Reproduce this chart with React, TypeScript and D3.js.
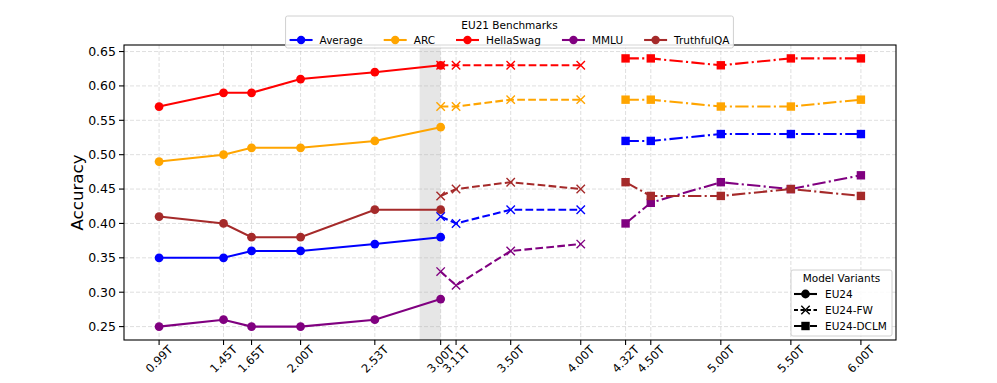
import * as d3 from "d3";

const width = 997;
const height = 383;
const margin = { left: 124, right: 101, top: 45, bottom: 43 };

const benchmarks = ["Average", "ARC", "HellaSwag", "MMLU", "TruthfulQA"];
const colors = ["blue", "orange", "red", "purple", "brown"];

const eu24Tokens = [0.99, 1.45, 1.65, 2.0, 2.53, 3.0];
const eu24Values = [
  [0.35, 0.35, 0.36, 0.36, 0.37, 0.38],
  [0.49, 0.5, 0.51, 0.51, 0.52, 0.54],
  [0.57, 0.59, 0.59, 0.61, 0.62, 0.63],
  [0.25, 0.26, 0.25, 0.25, 0.26, 0.29],
  [0.41, 0.4, 0.38, 0.38, 0.42, 0.42],
];

const fwTokens = [3.0, 3.11, 3.5, 4.0];
const fwValues = [
  [0.41, 0.4, 0.42, 0.42],
  [0.57, 0.57, 0.58, 0.58],
  [0.63, 0.63, 0.63, 0.63],
  [0.33, 0.31, 0.36, 0.37],
  [0.44, 0.45, 0.46, 0.45],
];

const dclmTokens = [4.32, 4.5, 5.0, 5.5, 6.0];
const dclmValues = [
  [0.52, 0.52, 0.53, 0.53, 0.53],
  [0.58, 0.58, 0.57, 0.57, 0.58],
  [0.64, 0.64, 0.63, 0.64, 0.64],
  [0.4, 0.43, 0.46, 0.45, 0.47],
  [0.46, 0.44, 0.44, 0.45, 0.44],
];

const xTicks = [0.99, 1.45, 1.65, 2.0, 2.53, 3.0, 3.11, 3.5, 4.0, 4.32, 4.5, 5.0, 5.5, 6.0];
const yTicks = [0.25, 0.3, 0.35, 0.4, 0.45, 0.5, 0.55, 0.6, 0.65];
const shadeSpan = [2.85, 3.0];

const variants = [
  { name: "EU24", tokens: eu24Tokens, values: eu24Values, dash: "none", marker: "circle" },
  { name: "EU24-FW", tokens: fwTokens, values: fwValues, dash: "7.7,3.3", marker: "x" },
  { name: "EU24-DCLM", tokens: dclmTokens, values: dclmValues, dash: "13.3,3.3,2.1,3.3", marker: "square" },
];

const font = "DejaVu Sans, sans-serif";

let ctx: CanvasRenderingContext2D | null = null;
const measure = (text: string, size: number) => {
  if (!ctx) ctx = document.createElement("canvas").getContext("2d");
  if (!ctx) return text.length * size * 0.6;
  ctx.font = `${size}px DejaVu Sans`;
  return ctx.measureText(text).width;
};

const Marker = ({ type, x, y, color }: { type: string; x: number; y: number; color: string }) => {
  if (type === "circle") return <circle cx={x} cy={y} r={4.4} fill={color} />;
  if (type === "square") return <rect x={x - 4.2} y={y - 4.2} width={8.4} height={8.4} fill={color} />;
  return (
    <path
      d={`M${x - 4.2},${y - 4.2}L${x + 4.2},${y + 4.2}M${x - 4.2},${y + 4.2}L${x + 4.2},${y - 4.2}`}
      stroke={color}
      strokeWidth={1.4}
      fill="none"
    />
  );
};

const App = () => {
  const x = d3.scaleLinear().domain([0.7395, 6.2505]).range([margin.left, width - margin.right]);
  const y = d3.scaleLinear().domain([0.2305, 0.6595]).range([height - margin.bottom, margin.top]);
  const line = d3
    .line<[number, number]>()
    .x((d) => x(d[0]))
    .y((d) => y(d[1]));

  const bottom = height - margin.bottom;
  const right = width - margin.right;

  // top legend layout
  const lf = 10.5;
  const handle = 23;
  const entries: { label: string; color: string; x: number }[] = [];
  let cx = 0;
  benchmarks.forEach((b, i) => {
    entries.push({ label: b, color: colors[i], x: cx });
    cx += handle + 7 + measure(b, lf) + 21;
  });
  const legW = cx - 21 + 8;
  const legX = (margin.left + right) / 2 - legW / 2 - 0.5;

  return (
    <svg width={width} height={height} style={{ display: "block", margin: "-8px" }} fontFamily={font}>
      <rect width={width} height={height} fill="white" />
      <rect
        x={x(shadeSpan[0])}
        y={margin.top}
        width={x(shadeSpan[1]) - x(shadeSpan[0])}
        height={bottom - margin.top}
        fill="#808080"
        fillOpacity={0.2}
      />
      {xTicks.map((t) => (
        <line key={"gx" + t} x1={x(t)} x2={x(t)} y1={margin.top} y2={bottom} stroke="#b0b0b0" strokeOpacity={0.5} strokeDasharray="4,2" strokeWidth={0.8} />
      ))}
      {yTicks.map((t) => (
        <line key={"gy" + t} x1={margin.left} x2={right} y1={y(t)} y2={y(t)} stroke="#b0b0b0" strokeOpacity={0.5} strokeDasharray="4,2" strokeWidth={0.8} />
      ))}
      {benchmarks.map((b, bi) =>
        variants.map((v) => {
          const pts = v.tokens.map((t, i) => [t, v.values[bi][i]] as [number, number]);
          return (
            <g key={b + v.name}>
              <path d={line(pts) || ""} fill="none" stroke={colors[bi]} strokeWidth={2.08} strokeDasharray={v.dash} />
              {pts.map((p, i) => (
                <Marker key={i} type={v.marker} x={x(p[0])} y={y(p[1])} color={colors[bi]} />
              ))}
            </g>
          );
        })
      )}
      <rect x={margin.left} y={margin.top} width={right - margin.left} height={bottom - margin.top} fill="none" stroke="black" strokeWidth={1.1} />
      {yTicks.map((t) => (
        <g key={"yt" + t}>
          <line x1={margin.left - 5} x2={margin.left} y1={y(t)} y2={y(t)} stroke="black" strokeWidth={1.1} />
          <text x={margin.left - 8} y={y(t)} dy="0.35em" textAnchor="end" fontSize={12.5}>
            {t.toFixed(2)}
          </text>
        </g>
      ))}
      {xTicks.map((t) => (
        <g key={"xt" + t}>
          <line x1={x(t)} x2={x(t)} y1={bottom} y2={bottom + 5} stroke="black" strokeWidth={1.1} />
          <text transform={`translate(${x(t)},${bottom + 19}) rotate(-45)`} dy="0.35em" textAnchor="middle" fontSize={11.5}>
            {t.toFixed(2) + "T"}
          </text>
        </g>
      ))}
      <text transform={`translate(83,${(margin.top + bottom) / 2}) rotate(-90)`} textAnchor="middle" fontSize={16.7}>
        Accuracy
      </text>
      <text x={(margin.left + right) / 2} y={391} textAnchor="middle" fontSize={16.7}>
        Tokens
      </text>

      <g transform={`translate(${legX},16)`}>
        <rect x={0} y={0} width={legW} height={32} rx={2} fill="white" fillOpacity={0.85} stroke="#d0d0d0" />
        <text x={legW / 2} y={9} dy="0.35em" textAnchor="middle" fontSize={lf}>
          EU21 Benchmarks
        </text>
        {entries.map((e) => (
          <g key={e.label} transform={`translate(${e.x + 4},24)`}>
            <line x1={0} x2={handle} y1={0} y2={0} stroke={e.color} strokeWidth={2.08} />
            <circle cx={handle / 2} cy={0} r={4.2} fill={e.color} />
            <text x={handle + 7} y={0} dy="0.35em" fontSize={lf}>
              {e.label}
            </text>
          </g>
        ))}
      </g>

      <g transform={`translate(791,270)`}>
        <rect x={0} y={0} width={101} height={66} rx={2} fill="white" fillOpacity={0.85} stroke="#d0d0d0" />
        <text x={50.5} y={8} dy="0.35em" textAnchor="middle" fontSize={lf}>
          Model Variants
        </text>
        {variants.map((v, i) => (
          <g key={v.name} transform={`translate(3,${24 + i * 16})`}>
            <line x1={0} x2={handle} y1={0} y2={0} stroke="black" strokeWidth={2.08} strokeDasharray={v.dash === "none" ? "none" : v.marker === "x" ? "4,2.5" : "9,2.5,2,2.5"} />
            <Marker type={v.marker} x={handle / 2} y={0} color="black" />
            <text x={handle + 8} y={0} dy="0.35em" fontSize={lf}>
              {v.name}
            </text>
          </g>
        ))}
      </g>
    </svg>
  );
};

export default App;
